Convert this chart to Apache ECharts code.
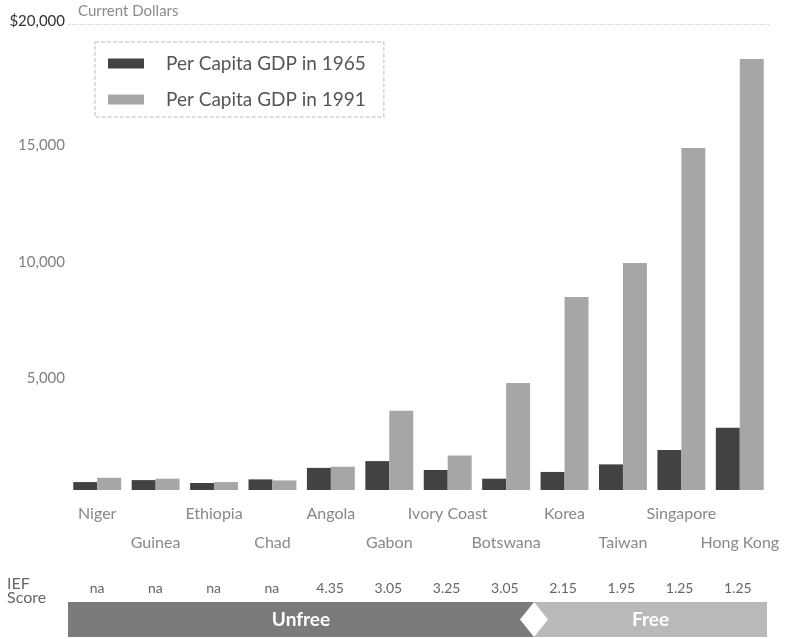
<!DOCTYPE html>
<html>
<head>
<meta charset="utf-8">
<script src="https://cdn.jsdelivr.net/npm/echarts@6/dist/echarts.min.js"></script>
<style>
  html, body { margin: 0; padding: 0; background: #fff; }
  #main { width: 795px; height: 639px; }
</style>
</head>
<body>
<div id="main"></div>
<script>
var countries = ['Niger', 'Guinea', 'Ethiopia', 'Chad', 'Angola', 'Gabon', 'Ivory Coast',
                 'Botswana', 'Korea', 'Taiwan', 'Singapore', 'Hong Kong'];
var gdp1965 = [340, 425, 300, 455, 950, 1240, 860, 485, 775, 1100, 1715, 2670];
var gdp1991 = [525, 485, 340, 410, 1000, 3400, 1480, 4590, 8280, 9740, 14680, 18500];
var iefScore = ['na', 'na', 'na', 'na', '4.35', '3.05', '3.25', '3.05', '2.15', '1.95', '1.25', '1.25'];
var bandNames = ['Unfree', 'Free'];
var bandFrom = [0, 8];
var bandTo = [7, 11];
var yTicks = [5000, 10000, 15000, 20000];

var FONT = 'Lato';
var chart = echarts.init(document.getElementById('main'));

var bandColors = ['#7b7b7b', '#b9b9b9'];

chart.setOption({
    backgroundColor: '#fff',
    animation: false,
    title: {
        text: 'Current Dollars',
        left: 78, top: 4,
        padding: 0,
        textStyle: {fontFamily: FONT, fontSize: 15, fontWeight: 'normal', color: '#8a8a8a'}
    },
    legend: {
        orient: 'vertical',
        left: 95, top: 42,
        padding: [12, 18, 8, 13],
        itemWidth: 36, itemHeight: 10,
        itemGap: 17,
        icon: 'rect',
        borderColor: '#bbb',
        borderWidth: 1,
        borderType: 'dashed',
        textStyle: {fontFamily: FONT, fontSize: 19, color: '#555', padding: [0, 0, 0, 17]}
    },
    grid: [
        {left: 68, right: 26, top: 24, bottom: 149},
        {left: 68, right: 28, top: 602, height: 35}
    ],
    xAxis: [{
        type: 'category',
        gridIndex: 0,
        data: countries,
        axisLine: {show: false},
        axisTick: {show: false},
        axisLabel: {
            interval: 0,
            margin: 9,
            lineHeight: 29,
            fontFamily: FONT, fontSize: 16, color: '#888',
            formatter: function (v, i) { return i % 2 ? '\n' + v : v; }
        }
    }, {
        type: 'category',
        gridIndex: 1,
        position: 'top',
        data: countries,
        axisLine: {show: false},
        axisTick: {show: false},
        axisLabel: {
            interval: 0,
            margin: 7,
            fontFamily: FONT, fontSize: 14, color: '#666',
            formatter: function (v, i) { return iefScore[i]; }
        }
    }],
    yAxis: [{
        type: 'value',
        gridIndex: 0,
        min: 0, max: 20000, interval: 5000,
        axisLine: {show: false},
        axisTick: {show: false},
        splitLine: {show: false},
        axisLabel: {
            margin: 3,
            formatter: function (v) {
                if (yTicks.indexOf(v) < 0) return '';
                var s = v.toLocaleString('en-US');
                return v === 20000 ? '{top|$' + s + '}' : '{low|' + s + '}';
            },
            rich: {
                top: {fontFamily: FONT, fontSize: 15, color: '#333', padding: [0, 0, 6, 0]},
                low: {fontFamily: FONT, fontSize: 15, color: '#808080', padding: [10, 0, 0, 0]}
            }
        }
    }, {
        type: 'value',
        gridIndex: 1,
        min: 0, max: 1,
        show: false
    }],
    graphic: [
        {type: 'text', left: 7, top: 576, style: {text: 'IEF', fontFamily: FONT, fontSize: 16, fill: '#666'}},
        {type: 'text', left: 7, top: 590, style: {text: 'Score', fontFamily: FONT, fontSize: 16, fill: '#666'}}
    ],
    series: [{
        name: 'Per Capita GDP in 1965',
        type: 'bar',
        xAxisIndex: 0, yAxisIndex: 0,
        data: gdp1965,
        barGap: 0,
        barCategoryGap: '18%',
        itemStyle: {color: '#424242'},
        markLine: {
            silent: true,
            symbol: 'none',
            label: {show: false},
            lineStyle: {color: '#c8c8c8', type: 'dotted', width: 1},
            data: [{yAxis: 20000}]
        }
    }, {
        name: 'Per Capita GDP in 1991',
        type: 'bar',
        xAxisIndex: 0, yAxisIndex: 0,
        data: gdp1991,
        itemStyle: {color: '#a6a6a6'}
    }, {
        type: 'custom',
        xAxisIndex: 1, yAxisIndex: 1,
        encode: {x: [0, 1]},
        data: bandFrom.map(function (f, i) { return [f, bandTo[i]]; }),
        renderItem: function (params, api) {
            var w = api.size([1, 0])[0];
            var a = api.coord([api.value(0), 1]);
            var b = api.coord([api.value(1), 0]);
            var x0 = a[0] - w / 2, x1 = b[0] + w / 2;
            var idx = params.dataIndex;
            var mid = (a[1] + b[1]) / 2;
            var kids = [{
                type: 'rect',
                shape: {x: x0, y: a[1], width: x1 - x0, height: b[1] - a[1]},
                style: {fill: bandColors[idx]},
                textContent: {
                    style: {text: bandNames[idx], fill: '#fff', fontFamily: FONT, fontSize: 19, fontWeight: 'bold'}
                },
                textConfig: {position: 'inside'}
            }];
            if (idx === 1) {
                kids.push({
                    type: 'polygon',
                    shape: {points: [[x0 - 14, mid], [x0, a[1]], [x0 + 14, mid], [x0, b[1]]]},
                    style: {fill: '#fff'}
                });
            }
            return {type: 'group', children: kids};
        }
    }]
});

window.addEventListener('resize', function () {
    chart.resize();
});
</script>
</body>
</html>
